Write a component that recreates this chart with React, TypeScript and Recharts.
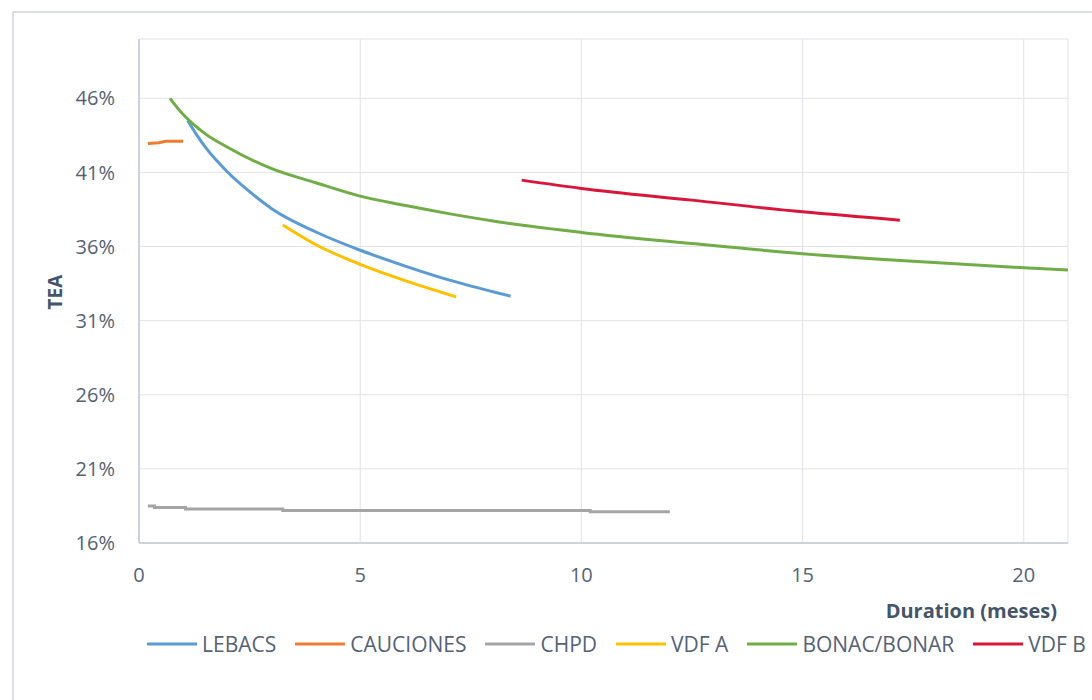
import { CartesianGrid, Legend, Line, LineChart, XAxis, YAxis } from "recharts";

// [duration (months), TEA]
const LEBACS = [
  [1.1, 0.445], [1.3, 0.4355], [1.5, 0.427], [2, 0.4103], [2.5, 0.397], [3, 0.3855],
  [4, 0.3698], [5, 0.3575], [6, 0.347], [7, 0.3375], [8, 0.3295], [8.4, 0.3265],
];
const CAUCIONES = [[0.2, 0.4295], [0.45, 0.43], [0.6, 0.431], [1.0, 0.431]];
const CHPD = [[0.2, 0.185], [0.35, 0.184], [1.05, 0.183], [3.25, 0.182], [10.2, 0.181], [12, 0.181]];
const VDF_A = [[3.25, 0.3745], [4, 0.3612], [5, 0.348], [6, 0.3372], [7, 0.3276], [7.17, 0.326]];
const BONAC_BONAR = [
  [0.7, 0.46], [1.0, 0.449], [1.5, 0.436], [2, 0.427], [3, 0.4125],
  [4, 0.403], [5, 0.394], [6, 0.3878], [7, 0.3822], [8, 0.3772], [10, 0.3695],
  [12.5, 0.362], [15, 0.3552], [17.5, 0.35], [20, 0.3457], [21, 0.3441],
];
const VDF_B = [[8.65, 0.4048], [10, 0.3992], [12.5, 0.3913], [15, 0.3834], [17.2, 0.3778]];

const X_TICKS = [0, 5, 10, 15, 20];
const Y_TICKS = [0.16, 0.21, 0.26, 0.31, 0.36, 0.41, 0.46];

const SERIES = [
  { name: "LEBACS", data: LEBACS, color: "#5B9BD5", type: "monotone" },
  { name: "CAUCIONES", data: CAUCIONES, color: "#ED7D31", type: "linear" },
  { name: "CHPD", data: CHPD, color: "#A5A5A5", type: "stepAfter" },
  { name: "VDF A", data: VDF_A, color: "#FFC000", type: "monotone" },
  { name: "BONAC/BONAR", data: BONAC_BONAR, color: "#70AD47", type: "monotone" },
  { name: "VDF B", data: VDF_B, color: "#D9163A", type: "monotone" },
] as const;

const FONT = '"Open Sans", sans-serif';
const TICK_COLOR = "#556275";
const TITLE_COLOR = "#44546A";

function LegendContent() {
  return (
    <div style={{ display: "flex", alignItems: "center", whiteSpace: "nowrap" }}>
      {SERIES.map((s) => (
        <div key={s.name} style={{ display: "flex", alignItems: "center", marginRight: 19 }}>
          <svg width={50} height={4} style={{ marginRight: 5 }}>
            <line x1={0} y1={2} x2={50} y2={2} stroke={s.color} strokeWidth={3} />
          </svg>
          <span style={{ fontFamily: FONT, fontSize: 21, color: TICK_COLOR }}>{s.name}</span>
        </div>
      ))}
    </div>
  );
}

export default function App() {
  return (
    <div style={{ position: "absolute", left: 0, top: 0, width: 1092, height: 700, overflow: "hidden", background: "#fff" }}>
      <div
        style={{
          position: "absolute", left: 12, top: 11, width: 1100, height: 700,
          borderLeft: "2px solid #DCE0E6", borderTop: "2px solid #DCE0E6",
        }}
      />
      <div style={{ position: "absolute", left: 0, top: 0 }}>
        <LineChart width={1092} height={700} margin={{ top: 39, right: 24, left: 0, bottom: 127 }}>
          <CartesianGrid stroke="#E1E3E8" strokeWidth={1} />
          <XAxis
            type="number"
            dataKey="x"
            domain={[0, 21]}
            ticks={X_TICKS}
            allowDataOverflow
            height={30}
            tickLine={false}
            tickSize={0}
            tickMargin={25}
            axisLine={{ stroke: "#CDD3DD", strokeWidth: 2 }}
            tick={{ fill: TICK_COLOR, fontSize: 20, fontFamily: FONT }}
          />
          <YAxis
            type="number"
            domain={[0.16, 0.5]}
            ticks={Y_TICKS}
            allowDataOverflow
            width={139}
            tickLine={false}
            tickSize={0}
            tickMargin={24}
            tickFormatter={(v: number) => `${Math.round(v * 100)}%`}
            axisLine={{ stroke: "#CDD3DD", strokeWidth: 2 }}
            tick={{ fill: TICK_COLOR, fontSize: 20, fontFamily: FONT }}
          />
          {SERIES.map((s) => (
            <Line
              key={s.name}
              name={s.name}
              data={s.data.map(([x, y]) => ({ x, y }))}
              dataKey="y"
              type={s.type}
              stroke={s.color}
              strokeWidth={3}
              dot={false}
              activeDot={false}
              isAnimationActive={false}
            />
          ))}
          <Legend
            content={<LegendContent />}
            verticalAlign="middle"
            wrapperStyle={{ left: 147, top: 630, width: 1100 }}
          />
          <text
            x={55}
            y={292}
            transform="rotate(-90 55 292)"
            textAnchor="middle"
            dominantBaseline="central"
            fontFamily={FONT}
            fontSize={19}
            fontWeight={700}
            fill={TITLE_COLOR}
          >
            TEA
          </text>
          <text
            x={1057}
            y={610}
            textAnchor="end"
            dominantBaseline="central"
            fontFamily={FONT}
            fontSize={20}
            fontWeight={700}
            fill={TITLE_COLOR}
          >
            Duration (meses)
          </text>
        </LineChart>
      </div>
    </div>
  );
}
